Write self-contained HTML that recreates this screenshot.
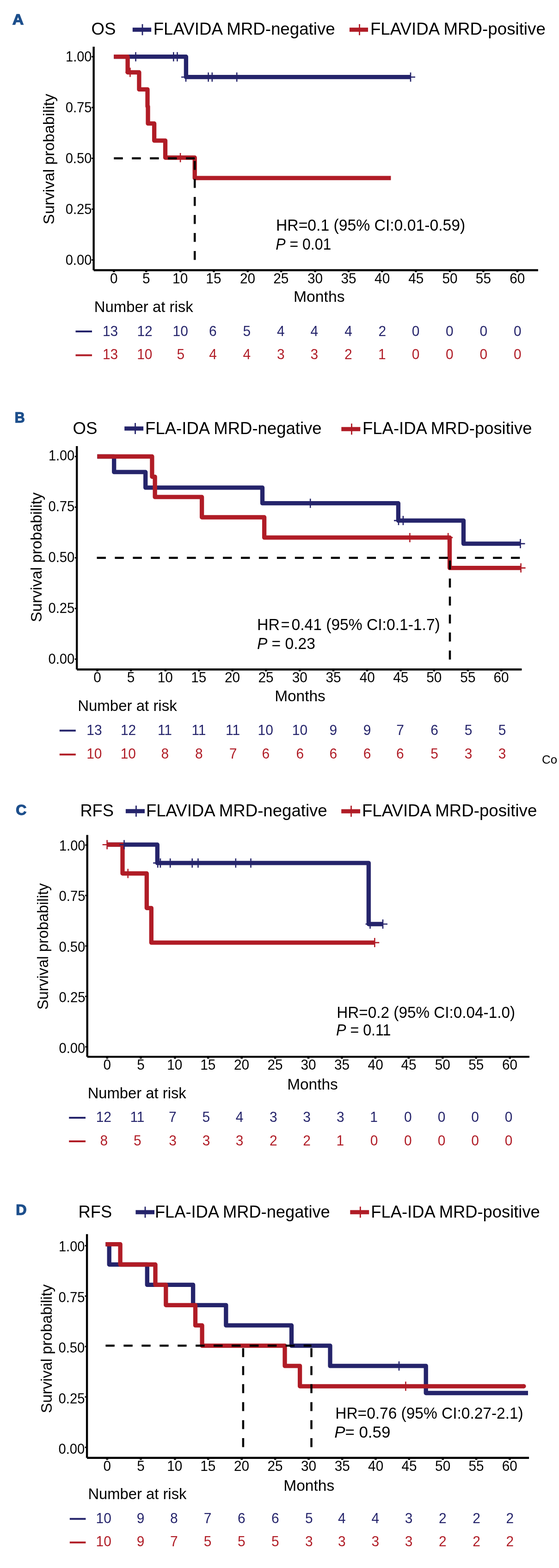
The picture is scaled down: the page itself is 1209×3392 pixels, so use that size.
<!DOCTYPE html>
<html><head><meta charset="utf-8"><title>Kaplan-Meier curves</title>
<style>html,body{margin:0;padding:0;background:#fff;}svg{display:block;}
text{font-family:'Liberation Sans',Arial,sans-serif;}</style></head>
<body>
<svg width="1209" height="3392" viewBox="0 0 1209 3392">
<rect width="1209" height="3392" fill="#fff"/>
<text x="26.79" y="53.2" font-size="32" fill="#1d4f8c" font-weight="bold" textLength="24.50" lengthAdjust="spacingAndGlyphs" stroke="#1d4f8c" stroke-width="1.4" stroke-linejoin="miter">A</text>
<text x="197.48" y="75.3" font-size="37" fill="#000" font-weight="normal" textLength="52.86" lengthAdjust="spacingAndGlyphs" >OS</text>
<line x1="286.8" y1="64.2" x2="327.1" y2="64.2" stroke="#25246b" stroke-width="9.0" />
<line x1="308.0" y1="52.2" x2="308.0" y2="76.2" stroke="#25246b" stroke-width="2.8" />
<text x="331.69" y="75.3" font-size="37" fill="#000" font-weight="normal" textLength="393.05" lengthAdjust="spacingAndGlyphs" >FLAVIDA MRD-negative</text>
<line x1="755.9" y1="64.2" x2="796.0" y2="64.2" stroke="#b01c26" stroke-width="9.0" />
<line x1="777.5" y1="52.2" x2="777.5" y2="76.2" stroke="#b01c26" stroke-width="2.8" />
<text x="800.89" y="75.3" font-size="37" fill="#000" font-weight="normal" textLength="378.94" lengthAdjust="spacingAndGlyphs" >FLAVIDA MRD-positive</text>
<text x="0" y="0" font-size="34" text-anchor="middle" transform="translate(117,344.2) rotate(-90)" textLength="282.5" lengthAdjust="spacingAndGlyphs">Survival probability</text>
<text x="141.66" y="572.9" font-size="31" fill="#000" font-weight="normal" textLength="56.75" lengthAdjust="spacingAndGlyphs" >0.00</text>
<line x1="198.1" y1="562.3" x2="202.6" y2="562.3" stroke="#000" stroke-width="3" />
<text x="141.66" y="462.9" font-size="31" fill="#000" font-weight="normal" textLength="56.85" lengthAdjust="spacingAndGlyphs" >0.25</text>
<line x1="198.1" y1="452.4" x2="202.6" y2="452.4" stroke="#000" stroke-width="3" />
<text x="141.66" y="352.9" font-size="31" fill="#000" font-weight="normal" textLength="56.75" lengthAdjust="spacingAndGlyphs" >0.50</text>
<line x1="198.1" y1="342.5" x2="202.6" y2="342.5" stroke="#000" stroke-width="3" />
<text x="141.66" y="243.0" font-size="31" fill="#000" font-weight="normal" textLength="56.85" lengthAdjust="spacingAndGlyphs" >0.75</text>
<line x1="198.1" y1="232.6" x2="202.6" y2="232.6" stroke="#000" stroke-width="3" />
<text x="142.10" y="133.0" font-size="31" fill="#000" font-weight="normal" textLength="56.31" lengthAdjust="spacingAndGlyphs" >1.00</text>
<line x1="198.1" y1="122.7" x2="202.6" y2="122.7" stroke="#000" stroke-width="3" />
<text x="238.11" y="613.0" font-size="31" fill="#000" textLength="16.55" lengthAdjust="spacingAndGlyphs">0</text>
<line x1="246.4" y1="584.5" x2="246.4" y2="588.7" stroke="#000" stroke-width="4.5" />
<text x="307.94" y="613.0" font-size="31" fill="#000" textLength="16.55" lengthAdjust="spacingAndGlyphs">5</text>
<line x1="316.2" y1="584.5" x2="316.2" y2="588.7" stroke="#000" stroke-width="4.5" />
<text x="373.09" y="613.0" font-size="31" fill="#000" textLength="33.10" lengthAdjust="spacingAndGlyphs">10</text>
<line x1="390.2" y1="584.5" x2="390.2" y2="588.7" stroke="#000" stroke-width="4.5" />
<text x="445.33" y="613.0" font-size="31" fill="#000" textLength="33.10" lengthAdjust="spacingAndGlyphs">15</text>
<line x1="462.4" y1="584.5" x2="462.4" y2="588.7" stroke="#000" stroke-width="4.5" />
<text x="518.97" y="613.0" font-size="31" fill="#000" textLength="33.10" lengthAdjust="spacingAndGlyphs">20</text>
<line x1="535.7" y1="584.5" x2="535.7" y2="588.7" stroke="#000" stroke-width="4.5" />
<text x="591.32" y="613.0" font-size="31" fill="#000" textLength="33.10" lengthAdjust="spacingAndGlyphs">25</text>
<line x1="608.0" y1="584.5" x2="608.0" y2="588.7" stroke="#000" stroke-width="4.5" />
<text x="664.95" y="613.0" font-size="31" fill="#000" textLength="33.10" lengthAdjust="spacingAndGlyphs">30</text>
<line x1="681.5" y1="584.5" x2="681.5" y2="588.7" stroke="#000" stroke-width="4.5" />
<text x="737.50" y="613.0" font-size="31" fill="#000" textLength="33.10" lengthAdjust="spacingAndGlyphs">35</text>
<line x1="754.0" y1="584.5" x2="754.0" y2="588.7" stroke="#000" stroke-width="4.5" />
<text x="810.09" y="613.0" font-size="31" fill="#000" textLength="33.10" lengthAdjust="spacingAndGlyphs">40</text>
<line x1="826.4" y1="584.5" x2="826.4" y2="588.7" stroke="#000" stroke-width="4.5" />
<text x="883.14" y="613.0" font-size="31" fill="#000" textLength="33.10" lengthAdjust="spacingAndGlyphs">45</text>
<line x1="899.4" y1="584.5" x2="899.4" y2="588.7" stroke="#000" stroke-width="4.5" />
<text x="956.42" y="613.0" font-size="31" fill="#000" textLength="33.10" lengthAdjust="spacingAndGlyphs">50</text>
<line x1="973.0" y1="584.5" x2="973.0" y2="588.7" stroke="#000" stroke-width="4.5" />
<text x="1028.87" y="613.0" font-size="31" fill="#000" textLength="33.10" lengthAdjust="spacingAndGlyphs">55</text>
<line x1="1045.4" y1="584.5" x2="1045.4" y2="588.7" stroke="#000" stroke-width="4.5" />
<text x="1102.17" y="613.0" font-size="31" fill="#000" textLength="33.10" lengthAdjust="spacingAndGlyphs">60</text>
<line x1="1118.9" y1="584.5" x2="1118.9" y2="588.7" stroke="#000" stroke-width="4.5" />
<line x1="202.6" y1="101.0" x2="202.6" y2="584.5" stroke="#000" stroke-width="4.4" />
<line x1="202.6" y1="584.5" x2="1163.8" y2="584.5" stroke="#000" stroke-width="4.4" />
<path d="M246.3,122.7 L402.4,122.7 L402.4,166.7 L888.0,166.7" fill="none" stroke="#25246b" stroke-width="9.3" stroke-linejoin="round" stroke-linecap="butt"/>
<path d="M246.3,122.7 L276.1,122.7 L276.1,156.5 L300.9,156.5 L300.9,193.4 L319.0,193.4 L319.0,230.3 L320.0,230.3 L320.0,267.2 L333.6,267.2 L333.6,304.1 L357.5,304.1 L357.5,341.0 L421.2,341.0 L421.2,385.2 L845.4,385.2" fill="none" stroke="#b01c26" stroke-width="9.3" stroke-linejoin="round" stroke-linecap="butt"/>
<path d="M283.5,122.7 H303.5 M293.5,112.7 V132.7" stroke="#25246b" stroke-width="2.6" fill="none"/>
<path d="M365.3,122.7 H385.3 M375.3,112.7 V132.7" stroke="#25246b" stroke-width="2.6" fill="none"/>
<path d="M373.4,122.7 H393.4 M383.4,112.7 V132.7" stroke="#25246b" stroke-width="2.6" fill="none"/>
<path d="M392.0,166.7 H412.0 M402.0,156.7 V176.7" stroke="#25246b" stroke-width="2.6" fill="none"/>
<path d="M440.6,166.7 H460.6 M450.6,156.7 V176.7" stroke="#25246b" stroke-width="2.6" fill="none"/>
<path d="M448.8,166.7 H468.8 M458.8,156.7 V176.7" stroke="#25246b" stroke-width="2.6" fill="none"/>
<path d="M502.2,166.7 H522.2 M512.2,156.7 V176.7" stroke="#25246b" stroke-width="2.6" fill="none"/>
<path d="M878.0,166.7 H898.0 M888.0,156.7 V176.7" stroke="#25246b" stroke-width="2.6" fill="none"/>
<path d="M271.4,156.5 H291.4 M281.4,146.5 V166.5" stroke="#b01c26" stroke-width="2.6" fill="none"/>
<path d="M380.1,341.0 H400.1 M390.1,331.0 V351.0" stroke="#b01c26" stroke-width="2.6" fill="none"/>
<line x1="246.3" y1="342.5" x2="421.2" y2="342.5" stroke="#000" stroke-width="4.5" stroke-dasharray="19.4 19.54"/>
<line x1="421.2" y1="562.3" x2="421.2" y2="342.5" stroke="#000" stroke-width="4.5" stroke-dasharray="19.4 19.54"/>
<text x="597.04" y="499.2" font-size="35" fill="#000" font-weight="normal" textLength="409.15" lengthAdjust="spacingAndGlyphs" >HR=0.1 (95% CI:0.01-0.59)</text>
<text x="596.24" y="540.2" font-size="35" textLength="119.99" lengthAdjust="spacingAndGlyphs"><tspan font-style="italic">P</tspan> = 0.01</text>
<text x="635.04" y="653.1" font-size="34" fill="#000" font-weight="normal" textLength="110.49" lengthAdjust="spacingAndGlyphs" >Months</text>
<text x="203.80" y="674.9" font-size="34" fill="#000" font-weight="normal" textLength="213.81" lengthAdjust="spacingAndGlyphs" >Number at risk</text>
<line x1="163.5" y1="717.0" x2="199.0" y2="717.0" stroke="#25246b" stroke-width="4" />
<text x="221.97" y="726.6" font-size="31" fill="#25246b" textLength="33.27" lengthAdjust="spacingAndGlyphs">13</text>
<text x="296.38" y="726.6" font-size="31" fill="#25246b" textLength="33.27" lengthAdjust="spacingAndGlyphs">12</text>
<text x="373.50" y="726.6" font-size="31" fill="#25246b" textLength="33.27" lengthAdjust="spacingAndGlyphs">10</text>
<text x="451.98" y="726.6" font-size="31" fill="#25246b" textLength="16.64" lengthAdjust="spacingAndGlyphs">6</text>
<text x="525.40" y="726.6" font-size="31" fill="#25246b" textLength="16.64" lengthAdjust="spacingAndGlyphs">5</text>
<text x="598.99" y="726.6" font-size="31" fill="#25246b" textLength="16.64" lengthAdjust="spacingAndGlyphs">4</text>
<text x="671.59" y="726.6" font-size="31" fill="#25246b" textLength="16.64" lengthAdjust="spacingAndGlyphs">4</text>
<text x="745.19" y="726.6" font-size="31" fill="#25246b" textLength="16.64" lengthAdjust="spacingAndGlyphs">4</text>
<text x="818.38" y="726.6" font-size="31" fill="#25246b" textLength="16.64" lengthAdjust="spacingAndGlyphs">2</text>
<text x="890.77" y="726.6" font-size="31" fill="#25246b" textLength="16.64" lengthAdjust="spacingAndGlyphs">0</text>
<text x="964.07" y="726.6" font-size="31" fill="#25246b" textLength="16.64" lengthAdjust="spacingAndGlyphs">0</text>
<text x="1037.57" y="726.6" font-size="31" fill="#25246b" textLength="16.64" lengthAdjust="spacingAndGlyphs">0</text>
<text x="1111.07" y="726.6" font-size="31" fill="#25246b" textLength="16.64" lengthAdjust="spacingAndGlyphs">0</text>
<line x1="163.5" y1="768.5" x2="199.0" y2="768.5" stroke="#b01c26" stroke-width="4" />
<text x="221.97" y="777.1" font-size="31" fill="#b01c26" textLength="33.27" lengthAdjust="spacingAndGlyphs">13</text>
<text x="296.20" y="777.1" font-size="31" fill="#b01c26" textLength="33.27" lengthAdjust="spacingAndGlyphs">10</text>
<text x="382.40" y="777.1" font-size="31" fill="#b01c26" textLength="16.64" lengthAdjust="spacingAndGlyphs">5</text>
<text x="452.19" y="777.1" font-size="31" fill="#b01c26" textLength="16.64" lengthAdjust="spacingAndGlyphs">4</text>
<text x="525.49" y="777.1" font-size="31" fill="#b01c26" textLength="16.64" lengthAdjust="spacingAndGlyphs">4</text>
<text x="598.96" y="777.1" font-size="31" fill="#b01c26" textLength="16.64" lengthAdjust="spacingAndGlyphs">3</text>
<text x="671.56" y="777.1" font-size="31" fill="#b01c26" textLength="16.64" lengthAdjust="spacingAndGlyphs">3</text>
<text x="745.08" y="777.1" font-size="31" fill="#b01c26" textLength="16.64" lengthAdjust="spacingAndGlyphs">2</text>
<text x="817.96" y="777.1" font-size="31" fill="#b01c26" textLength="16.64" lengthAdjust="spacingAndGlyphs">1</text>
<text x="890.77" y="777.1" font-size="31" fill="#b01c26" textLength="16.64" lengthAdjust="spacingAndGlyphs">0</text>
<text x="964.07" y="777.1" font-size="31" fill="#b01c26" textLength="16.64" lengthAdjust="spacingAndGlyphs">0</text>
<text x="1037.57" y="777.1" font-size="31" fill="#b01c26" textLength="16.64" lengthAdjust="spacingAndGlyphs">0</text>
<text x="1111.07" y="777.1" font-size="31" fill="#b01c26" textLength="16.64" lengthAdjust="spacingAndGlyphs">0</text>
<text x="31.69" y="914.0" font-size="32" fill="#1d4f8c" font-weight="bold" textLength="21.98" lengthAdjust="spacingAndGlyphs" stroke="#1d4f8c" stroke-width="1.4" stroke-linejoin="miter">B</text>
<text x="157.48" y="938.6" font-size="37" fill="#000" font-weight="normal" textLength="52.97" lengthAdjust="spacingAndGlyphs" >OS</text>
<line x1="269.2" y1="927.0" x2="310.1" y2="927.0" stroke="#25246b" stroke-width="9.0" />
<line x1="292.5" y1="915.0" x2="292.5" y2="939.0" stroke="#25246b" stroke-width="2.8" />
<text x="314.11" y="938.6" font-size="37" fill="#000" font-weight="normal" textLength="381.49" lengthAdjust="spacingAndGlyphs" >FLA-IDA MRD-negative</text>
<line x1="738.3" y1="928.3" x2="779.2" y2="928.3" stroke="#b01c26" stroke-width="9.0" />
<line x1="760.5" y1="916.3" x2="760.5" y2="940.3" stroke="#b01c26" stroke-width="2.8" />
<text x="784.11" y="938.6" font-size="37" fill="#000" font-weight="normal" textLength="366.28" lengthAdjust="spacingAndGlyphs" >FLA-IDA MRD-positive</text>
<text x="0" y="0" font-size="34" text-anchor="middle" transform="translate(89.7,1205.5) rotate(-90)" textLength="280.5" lengthAdjust="spacingAndGlyphs">Survival probability</text>
<text x="104.46" y="1435.6" font-size="31" fill="#000" font-weight="normal" textLength="56.75" lengthAdjust="spacingAndGlyphs" >0.00</text>
<line x1="161.7" y1="1425.9" x2="166.2" y2="1425.9" stroke="#000" stroke-width="3" />
<text x="104.46" y="1325.7" font-size="31" fill="#000" font-weight="normal" textLength="56.85" lengthAdjust="spacingAndGlyphs" >0.25</text>
<line x1="161.7" y1="1316.3" x2="166.2" y2="1316.3" stroke="#000" stroke-width="3" />
<text x="104.46" y="1215.8" font-size="31" fill="#000" font-weight="normal" textLength="56.75" lengthAdjust="spacingAndGlyphs" >0.50</text>
<line x1="161.7" y1="1206.7" x2="166.2" y2="1206.7" stroke="#000" stroke-width="3" />
<text x="104.46" y="1106.0" font-size="31" fill="#000" font-weight="normal" textLength="56.85" lengthAdjust="spacingAndGlyphs" >0.75</text>
<line x1="161.7" y1="1097.1" x2="166.2" y2="1097.1" stroke="#000" stroke-width="3" />
<text x="104.90" y="996.1" font-size="31" fill="#000" font-weight="normal" textLength="56.31" lengthAdjust="spacingAndGlyphs" >1.00</text>
<line x1="161.7" y1="987.5" x2="166.2" y2="987.5" stroke="#000" stroke-width="3" />
<text x="202.21" y="1475.9" font-size="31" fill="#000" textLength="16.55" lengthAdjust="spacingAndGlyphs">0</text>
<line x1="210.5" y1="1448.2" x2="210.5" y2="1452.4" stroke="#000" stroke-width="4.5" />
<text x="274.74" y="1475.9" font-size="31" fill="#000" textLength="16.55" lengthAdjust="spacingAndGlyphs">5</text>
<line x1="283.0" y1="1448.2" x2="283.0" y2="1452.4" stroke="#000" stroke-width="4.5" />
<text x="340.69" y="1475.9" font-size="31" fill="#000" textLength="33.10" lengthAdjust="spacingAndGlyphs">10</text>
<line x1="357.8" y1="1448.2" x2="357.8" y2="1452.4" stroke="#000" stroke-width="4.5" />
<text x="413.23" y="1475.9" font-size="31" fill="#000" textLength="33.10" lengthAdjust="spacingAndGlyphs">15</text>
<line x1="430.3" y1="1448.2" x2="430.3" y2="1452.4" stroke="#000" stroke-width="4.5" />
<text x="485.97" y="1475.9" font-size="31" fill="#000" textLength="33.10" lengthAdjust="spacingAndGlyphs">20</text>
<line x1="502.7" y1="1448.2" x2="502.7" y2="1452.4" stroke="#000" stroke-width="4.5" />
<text x="558.52" y="1475.9" font-size="31" fill="#000" textLength="33.10" lengthAdjust="spacingAndGlyphs">25</text>
<line x1="575.2" y1="1448.2" x2="575.2" y2="1452.4" stroke="#000" stroke-width="4.5" />
<text x="631.75" y="1475.9" font-size="31" fill="#000" textLength="33.10" lengthAdjust="spacingAndGlyphs">30</text>
<line x1="648.3" y1="1448.2" x2="648.3" y2="1452.4" stroke="#000" stroke-width="4.5" />
<text x="704.50" y="1475.9" font-size="31" fill="#000" textLength="33.10" lengthAdjust="spacingAndGlyphs">35</text>
<line x1="721.0" y1="1448.2" x2="721.0" y2="1452.4" stroke="#000" stroke-width="4.5" />
<text x="777.69" y="1475.9" font-size="31" fill="#000" textLength="33.10" lengthAdjust="spacingAndGlyphs">40</text>
<line x1="794.0" y1="1448.2" x2="794.0" y2="1452.4" stroke="#000" stroke-width="4.5" />
<text x="850.24" y="1475.9" font-size="31" fill="#000" textLength="33.10" lengthAdjust="spacingAndGlyphs">45</text>
<line x1="866.5" y1="1448.2" x2="866.5" y2="1452.4" stroke="#000" stroke-width="4.5" />
<text x="922.32" y="1475.9" font-size="31" fill="#000" textLength="33.10" lengthAdjust="spacingAndGlyphs">50</text>
<line x1="938.9" y1="1448.2" x2="938.9" y2="1452.4" stroke="#000" stroke-width="4.5" />
<text x="995.37" y="1475.9" font-size="31" fill="#000" textLength="33.10" lengthAdjust="spacingAndGlyphs">55</text>
<line x1="1011.9" y1="1448.2" x2="1011.9" y2="1452.4" stroke="#000" stroke-width="4.5" />
<text x="1067.57" y="1475.9" font-size="31" fill="#000" textLength="33.10" lengthAdjust="spacingAndGlyphs">60</text>
<line x1="1084.3" y1="1448.2" x2="1084.3" y2="1452.4" stroke="#000" stroke-width="4.5" />
<line x1="166.2" y1="965.0" x2="166.2" y2="1448.2" stroke="#000" stroke-width="4.4" />
<line x1="166.2" y1="1448.2" x2="1128.4" y2="1448.2" stroke="#000" stroke-width="4.4" />
<path d="M210.4,987.5 L246.7,987.5 L246.7,1021.2 L314.7,1021.2 L314.7,1054.9 L567.5,1054.9 L567.5,1088.7 L861.4,1088.7 L861.4,1126.1 L1002.5,1126.1 L1002.5,1176.1 L1125.5,1176.1" fill="none" stroke="#25246b" stroke-width="9.3" stroke-linejoin="round" stroke-linecap="butt"/>
<path d="M210.4,987.5 L328.9,987.5 L328.9,1031.3 L335.1,1031.3 L335.1,1075.2 L436.6,1075.2 L436.6,1119.0 L571.6,1119.0 L571.6,1162.9 L972.5,1162.9 L972.5,1228.6 L1126.6,1228.6" fill="none" stroke="#b01c26" stroke-width="9.3" stroke-linejoin="round" stroke-linecap="butt"/>
<path d="M661.2,1088.7 H681.2 M671.2,1078.7 V1098.7" stroke="#25246b" stroke-width="2.6" fill="none"/>
<path d="M852.0,1126.1 H872.0 M862.0,1116.1 V1136.1" stroke="#25246b" stroke-width="2.6" fill="none"/>
<path d="M861.9,1126.1 H881.9 M871.9,1116.1 V1136.1" stroke="#25246b" stroke-width="2.6" fill="none"/>
<path d="M1115.5,1176.1 H1135.5 M1125.5,1166.1 V1186.1" stroke="#25246b" stroke-width="2.6" fill="none"/>
<path d="M876.4,1162.9 H896.4 M886.4,1152.9 V1172.9" stroke="#b01c26" stroke-width="2.6" fill="none"/>
<path d="M959.2,1162.9 H979.2 M969.2,1152.9 V1172.9" stroke="#b01c26" stroke-width="2.6" fill="none"/>
<path d="M1116.6,1228.6 H1136.6 M1126.6,1218.6 V1238.6" stroke="#b01c26" stroke-width="2.6" fill="none"/>
<line x1="209.5" y1="1206.7" x2="1124.3" y2="1206.7" stroke="#000" stroke-width="4.5" stroke-dasharray="19.4 19.54"/>
<line x1="973.0" y1="1426.7" x2="973.0" y2="1206.7" stroke="#000" stroke-width="4.5" stroke-dasharray="19.4 19.54"/>
<text x="1172" y="1652" font-size="26" fill="#000">Co</text>
<text x="556.12" y="1362.6" font-size="35" fill="#000" font-weight="normal" textLength="48.95" lengthAdjust="spacingAndGlyphs" >HR</text>
<text x="607.43" y="1362.6" font-size="35" fill="#000" font-weight="normal" textLength="19.07" lengthAdjust="spacingAndGlyphs" >=</text>
<text x="630.49" y="1362.6" font-size="35" fill="#000" font-weight="normal" textLength="321.28" lengthAdjust="spacingAndGlyphs" >0.41 (95% CI:0.1-1.7)</text>
<text x="555.89" y="1403.6" font-size="35" textLength="125.95" lengthAdjust="spacingAndGlyphs"><tspan font-style="italic">P</tspan> = 0.23</text>
<text x="594.16" y="1516.9" font-size="34" fill="#000" font-weight="normal" textLength="109.66" lengthAdjust="spacingAndGlyphs" >Months</text>
<text x="168.19" y="1538.2" font-size="34" fill="#000" font-weight="normal" textLength="214.52" lengthAdjust="spacingAndGlyphs" >Number at risk</text>
<line x1="128.8" y1="1580.5" x2="163.8" y2="1580.5" stroke="#25246b" stroke-width="4" />
<text x="187.27" y="1589.8" font-size="31" fill="#25246b" textLength="33.27" lengthAdjust="spacingAndGlyphs">13</text>
<text x="260.88" y="1589.8" font-size="31" fill="#25246b" textLength="33.27" lengthAdjust="spacingAndGlyphs">12</text>
<text x="340.96" y="1589.8" font-size="31" fill="#25246b" textLength="31.05" lengthAdjust="spacingAndGlyphs">11</text>
<text x="414.46" y="1589.8" font-size="31" fill="#25246b" textLength="31.05" lengthAdjust="spacingAndGlyphs">11</text>
<text x="488.06" y="1589.8" font-size="31" fill="#25246b" textLength="31.05" lengthAdjust="spacingAndGlyphs">11</text>
<text x="557.60" y="1589.8" font-size="31" fill="#25246b" textLength="33.27" lengthAdjust="spacingAndGlyphs">10</text>
<text x="631.80" y="1589.8" font-size="31" fill="#25246b" textLength="33.27" lengthAdjust="spacingAndGlyphs">10</text>
<text x="712.60" y="1589.8" font-size="31" fill="#25246b" textLength="16.64" lengthAdjust="spacingAndGlyphs">9</text>
<text x="785.80" y="1589.8" font-size="31" fill="#25246b" textLength="16.64" lengthAdjust="spacingAndGlyphs">9</text>
<text x="857.17" y="1589.8" font-size="31" fill="#25246b" textLength="16.64" lengthAdjust="spacingAndGlyphs">7</text>
<text x="931.18" y="1589.8" font-size="31" fill="#25246b" textLength="16.64" lengthAdjust="spacingAndGlyphs">6</text>
<text x="1004.80" y="1589.8" font-size="31" fill="#25246b" textLength="16.64" lengthAdjust="spacingAndGlyphs">5</text>
<text x="1077.80" y="1589.8" font-size="31" fill="#25246b" textLength="16.64" lengthAdjust="spacingAndGlyphs">5</text>
<line x1="128.8" y1="1632.2" x2="163.8" y2="1632.2" stroke="#b01c26" stroke-width="4" />
<text x="187.20" y="1641.0" font-size="31" fill="#b01c26" textLength="33.27" lengthAdjust="spacingAndGlyphs">10</text>
<text x="260.70" y="1641.0" font-size="31" fill="#b01c26" textLength="33.27" lengthAdjust="spacingAndGlyphs">10</text>
<text x="348.58" y="1641.0" font-size="31" fill="#b01c26" textLength="16.64" lengthAdjust="spacingAndGlyphs">8</text>
<text x="422.08" y="1641.0" font-size="31" fill="#b01c26" textLength="16.64" lengthAdjust="spacingAndGlyphs">8</text>
<text x="495.67" y="1641.0" font-size="31" fill="#b01c26" textLength="16.64" lengthAdjust="spacingAndGlyphs">7</text>
<text x="566.38" y="1641.0" font-size="31" fill="#b01c26" textLength="16.64" lengthAdjust="spacingAndGlyphs">6</text>
<text x="640.58" y="1641.0" font-size="31" fill="#b01c26" textLength="16.64" lengthAdjust="spacingAndGlyphs">6</text>
<text x="712.48" y="1641.0" font-size="31" fill="#b01c26" textLength="16.64" lengthAdjust="spacingAndGlyphs">6</text>
<text x="785.68" y="1641.0" font-size="31" fill="#b01c26" textLength="16.64" lengthAdjust="spacingAndGlyphs">6</text>
<text x="857.08" y="1641.0" font-size="31" fill="#b01c26" textLength="16.64" lengthAdjust="spacingAndGlyphs">6</text>
<text x="931.30" y="1641.0" font-size="31" fill="#b01c26" textLength="16.64" lengthAdjust="spacingAndGlyphs">5</text>
<text x="1004.86" y="1641.0" font-size="31" fill="#b01c26" textLength="16.64" lengthAdjust="spacingAndGlyphs">3</text>
<text x="1077.86" y="1641.0" font-size="31" fill="#b01c26" textLength="16.64" lengthAdjust="spacingAndGlyphs">3</text>
<text x="34.19" y="1763.4" font-size="32" fill="#1d4f8c" font-weight="bold" textLength="23.08" lengthAdjust="spacingAndGlyphs" stroke="#1d4f8c" stroke-width="1.4" stroke-linejoin="miter">C</text>
<text x="173.42" y="1765.8" font-size="37" fill="#000" font-weight="normal" textLength="72.61" lengthAdjust="spacingAndGlyphs" >RFS</text>
<line x1="271.9" y1="1754.7" x2="313.0" y2="1754.7" stroke="#25246b" stroke-width="9.0" />
<line x1="294.4" y1="1742.7" x2="294.4" y2="1766.7" stroke="#25246b" stroke-width="2.8" />
<text x="315.90" y="1765.8" font-size="37" fill="#000" font-weight="normal" textLength="391.83" lengthAdjust="spacingAndGlyphs" >FLAVIDA MRD-negative</text>
<line x1="738.2" y1="1754.9" x2="779.0" y2="1754.9" stroke="#b01c26" stroke-width="9.0" />
<line x1="759.5" y1="1742.9" x2="759.5" y2="1766.9" stroke="#b01c26" stroke-width="2.8" />
<text x="782.89" y="1765.8" font-size="37" fill="#000" font-weight="normal" textLength="378.44" lengthAdjust="spacingAndGlyphs" >FLAVIDA MRD-positive</text>
<text x="0" y="0" font-size="33" text-anchor="middle" transform="translate(104,2047.4) rotate(-90)" textLength="273.5" lengthAdjust="spacingAndGlyphs">Survival probability</text>
<text x="127.56" y="2277.6" font-size="31" fill="#000" font-weight="normal" textLength="56.75" lengthAdjust="spacingAndGlyphs" >0.00</text>
<line x1="184.2" y1="2264.7" x2="188.7" y2="2264.7" stroke="#000" stroke-width="3" />
<text x="127.56" y="2168.2" font-size="31" fill="#000" font-weight="normal" textLength="56.85" lengthAdjust="spacingAndGlyphs" >0.25</text>
<line x1="184.2" y1="2155.5" x2="188.7" y2="2155.5" stroke="#000" stroke-width="3" />
<text x="127.56" y="2058.8" font-size="31" fill="#000" font-weight="normal" textLength="56.75" lengthAdjust="spacingAndGlyphs" >0.50</text>
<line x1="184.2" y1="2046.4" x2="188.7" y2="2046.4" stroke="#000" stroke-width="3" />
<text x="127.56" y="1949.4" font-size="31" fill="#000" font-weight="normal" textLength="56.85" lengthAdjust="spacingAndGlyphs" >0.75</text>
<line x1="184.2" y1="1937.2" x2="188.7" y2="1937.2" stroke="#000" stroke-width="3" />
<text x="128.00" y="1840.0" font-size="31" fill="#000" font-weight="normal" textLength="56.31" lengthAdjust="spacingAndGlyphs" >1.00</text>
<line x1="184.2" y1="1828.1" x2="188.7" y2="1828.1" stroke="#000" stroke-width="3" />
<text x="223.51" y="2313.9" font-size="31" fill="#000" textLength="16.55" lengthAdjust="spacingAndGlyphs">0</text>
<line x1="231.8" y1="2286.1" x2="231.8" y2="2290.3" stroke="#000" stroke-width="4.5" />
<text x="296.14" y="2313.9" font-size="31" fill="#000" textLength="16.55" lengthAdjust="spacingAndGlyphs">5</text>
<line x1="304.4" y1="2286.1" x2="304.4" y2="2290.3" stroke="#000" stroke-width="4.5" />
<text x="361.29" y="2313.9" font-size="31" fill="#000" textLength="33.10" lengthAdjust="spacingAndGlyphs">10</text>
<line x1="378.4" y1="2286.1" x2="378.4" y2="2290.3" stroke="#000" stroke-width="4.5" />
<text x="433.23" y="2313.9" font-size="31" fill="#000" textLength="33.10" lengthAdjust="spacingAndGlyphs">15</text>
<line x1="450.3" y1="2286.1" x2="450.3" y2="2290.3" stroke="#000" stroke-width="4.5" />
<text x="505.97" y="2313.9" font-size="31" fill="#000" textLength="33.10" lengthAdjust="spacingAndGlyphs">20</text>
<line x1="522.7" y1="2286.1" x2="522.7" y2="2290.3" stroke="#000" stroke-width="4.5" />
<text x="578.52" y="2313.9" font-size="31" fill="#000" textLength="33.10" lengthAdjust="spacingAndGlyphs">25</text>
<line x1="595.2" y1="2286.1" x2="595.2" y2="2290.3" stroke="#000" stroke-width="4.5" />
<text x="650.45" y="2313.9" font-size="31" fill="#000" textLength="33.10" lengthAdjust="spacingAndGlyphs">30</text>
<line x1="667.0" y1="2286.1" x2="667.0" y2="2290.3" stroke="#000" stroke-width="4.5" />
<text x="722.90" y="2313.9" font-size="31" fill="#000" textLength="33.10" lengthAdjust="spacingAndGlyphs">35</text>
<line x1="739.4" y1="2286.1" x2="739.4" y2="2290.3" stroke="#000" stroke-width="4.5" />
<text x="795.59" y="2313.9" font-size="31" fill="#000" textLength="33.10" lengthAdjust="spacingAndGlyphs">40</text>
<line x1="811.9" y1="2286.1" x2="811.9" y2="2290.3" stroke="#000" stroke-width="4.5" />
<text x="867.54" y="2313.9" font-size="31" fill="#000" textLength="33.10" lengthAdjust="spacingAndGlyphs">45</text>
<line x1="883.8" y1="2286.1" x2="883.8" y2="2290.3" stroke="#000" stroke-width="4.5" />
<text x="940.72" y="2313.9" font-size="31" fill="#000" textLength="33.10" lengthAdjust="spacingAndGlyphs">50</text>
<line x1="957.3" y1="2286.1" x2="957.3" y2="2290.3" stroke="#000" stroke-width="4.5" />
<text x="1013.17" y="2313.9" font-size="31" fill="#000" textLength="33.10" lengthAdjust="spacingAndGlyphs">55</text>
<line x1="1029.7" y1="2286.1" x2="1029.7" y2="2290.3" stroke="#000" stroke-width="4.5" />
<text x="1085.97" y="2313.9" font-size="31" fill="#000" textLength="33.10" lengthAdjust="spacingAndGlyphs">60</text>
<line x1="1102.7" y1="2286.1" x2="1102.7" y2="2290.3" stroke="#000" stroke-width="4.5" />
<line x1="188.7" y1="1806.3" x2="188.7" y2="2286.1" stroke="#000" stroke-width="4.4" />
<line x1="188.7" y1="2286.1" x2="1145.0" y2="2286.1" stroke="#000" stroke-width="4.4" />
<path d="M231.6,1827.2 L340.3,1827.2 L340.3,1866.9 L797.3,1866.9 L797.3,1999.0 L828.0,1999.0" fill="none" stroke="#25246b" stroke-width="9.3" stroke-linejoin="round" stroke-linecap="butt"/>
<path d="M231.6,1827.2 L265.0,1827.2 L265.0,1889.5 L317.3,1889.5 L317.3,1964.3 L327.3,1964.3 L327.3,2039.1 L810.3,2039.1" fill="none" stroke="#b01c26" stroke-width="9.3" stroke-linejoin="round" stroke-linecap="butt"/>
<path d="M258.5,1827.2 H278.5 M268.5,1817.2 V1837.2" stroke="#25246b" stroke-width="2.6" fill="none"/>
<path d="M331.2,1866.9 H351.2 M341.2,1856.9 V1876.9" stroke="#25246b" stroke-width="2.6" fill="none"/>
<path d="M336.9,1866.9 H356.9 M346.9,1856.9 V1876.9" stroke="#25246b" stroke-width="2.6" fill="none"/>
<path d="M358.2,1866.9 H378.2 M368.2,1856.9 V1876.9" stroke="#25246b" stroke-width="2.6" fill="none"/>
<path d="M405.7,1866.9 H425.7 M415.7,1856.9 V1876.9" stroke="#25246b" stroke-width="2.6" fill="none"/>
<path d="M418.4,1866.9 H438.4 M428.4,1856.9 V1876.9" stroke="#25246b" stroke-width="2.6" fill="none"/>
<path d="M499.8,1866.9 H519.8 M509.8,1856.9 V1876.9" stroke="#25246b" stroke-width="2.6" fill="none"/>
<path d="M532.5,1866.9 H552.5 M542.5,1856.9 V1876.9" stroke="#25246b" stroke-width="2.6" fill="none"/>
<path d="M790.5,1999.0 H810.5 M800.5,1989.0 V2009.0" stroke="#25246b" stroke-width="2.6" fill="none"/>
<path d="M818.0,1999.0 H838.0 M828.0,1989.0 V2009.0" stroke="#25246b" stroke-width="2.6" fill="none"/>
<path d="M221.6,1827.2 H241.6 M231.6,1817.2 V1837.2" stroke="#b01c26" stroke-width="2.6" fill="none"/>
<path d="M266.7,1889.5 H286.7 M276.7,1879.5 V1899.5" stroke="#b01c26" stroke-width="2.6" fill="none"/>
<path d="M800.3,2039.1 H820.3 M810.3,2029.1 V2049.1" stroke="#b01c26" stroke-width="2.6" fill="none"/>
<text x="728.27" y="2201.8" font-size="35" fill="#000" font-weight="normal" textLength="385.79" lengthAdjust="spacingAndGlyphs" >HR=0.2 (95% CI:0.04-1.0)</text>
<text x="726.93" y="2240.2" font-size="35" textLength="118.61" lengthAdjust="spacingAndGlyphs"><tspan font-style="italic">P</tspan> = 0.11</text>
<text x="621.16" y="2357.4" font-size="34" fill="#000" font-weight="normal" textLength="109.55" lengthAdjust="spacingAndGlyphs" >Months</text>
<text x="189.71" y="2375.6" font-size="34" fill="#000" font-weight="normal" textLength="213.00" lengthAdjust="spacingAndGlyphs" >Number at risk</text>
<line x1="149.2" y1="2417.9" x2="185.0" y2="2417.9" stroke="#25246b" stroke-width="4" />
<text x="207.68" y="2427.0" font-size="31" fill="#25246b" textLength="33.27" lengthAdjust="spacingAndGlyphs">12</text>
<text x="281.46" y="2427.0" font-size="31" fill="#25246b" textLength="31.05" lengthAdjust="spacingAndGlyphs">11</text>
<text x="365.07" y="2427.0" font-size="31" fill="#25246b" textLength="16.64" lengthAdjust="spacingAndGlyphs">7</text>
<text x="437.60" y="2427.0" font-size="31" fill="#25246b" textLength="16.64" lengthAdjust="spacingAndGlyphs">5</text>
<text x="509.79" y="2427.0" font-size="31" fill="#25246b" textLength="16.64" lengthAdjust="spacingAndGlyphs">4</text>
<text x="583.06" y="2427.0" font-size="31" fill="#25246b" textLength="16.64" lengthAdjust="spacingAndGlyphs">3</text>
<text x="655.36" y="2427.0" font-size="31" fill="#25246b" textLength="16.64" lengthAdjust="spacingAndGlyphs">3</text>
<text x="727.96" y="2427.0" font-size="31" fill="#25246b" textLength="16.64" lengthAdjust="spacingAndGlyphs">3</text>
<text x="800.26" y="2427.0" font-size="31" fill="#25246b" textLength="16.64" lengthAdjust="spacingAndGlyphs">1</text>
<text x="873.97" y="2427.0" font-size="31" fill="#25246b" textLength="16.64" lengthAdjust="spacingAndGlyphs">0</text>
<text x="946.67" y="2427.0" font-size="31" fill="#25246b" textLength="16.64" lengthAdjust="spacingAndGlyphs">0</text>
<text x="1019.27" y="2427.0" font-size="31" fill="#25246b" textLength="16.64" lengthAdjust="spacingAndGlyphs">0</text>
<text x="1091.77" y="2427.0" font-size="31" fill="#25246b" textLength="16.64" lengthAdjust="spacingAndGlyphs">0</text>
<line x1="149.2" y1="2469.0" x2="185.0" y2="2469.0" stroke="#b01c26" stroke-width="4" />
<text x="216.38" y="2478.0" font-size="31" fill="#b01c26" textLength="16.64" lengthAdjust="spacingAndGlyphs">8</text>
<text x="289.10" y="2478.0" font-size="31" fill="#b01c26" textLength="16.64" lengthAdjust="spacingAndGlyphs">5</text>
<text x="365.16" y="2478.0" font-size="31" fill="#b01c26" textLength="16.64" lengthAdjust="spacingAndGlyphs">3</text>
<text x="437.66" y="2478.0" font-size="31" fill="#b01c26" textLength="16.64" lengthAdjust="spacingAndGlyphs">3</text>
<text x="509.76" y="2478.0" font-size="31" fill="#b01c26" textLength="16.64" lengthAdjust="spacingAndGlyphs">3</text>
<text x="582.98" y="2478.0" font-size="31" fill="#b01c26" textLength="16.64" lengthAdjust="spacingAndGlyphs">2</text>
<text x="655.28" y="2478.0" font-size="31" fill="#b01c26" textLength="16.64" lengthAdjust="spacingAndGlyphs">2</text>
<text x="727.46" y="2478.0" font-size="31" fill="#b01c26" textLength="16.64" lengthAdjust="spacingAndGlyphs">1</text>
<text x="800.67" y="2478.0" font-size="31" fill="#b01c26" textLength="16.64" lengthAdjust="spacingAndGlyphs">0</text>
<text x="873.97" y="2478.0" font-size="31" fill="#b01c26" textLength="16.64" lengthAdjust="spacingAndGlyphs">0</text>
<text x="946.67" y="2478.0" font-size="31" fill="#b01c26" textLength="16.64" lengthAdjust="spacingAndGlyphs">0</text>
<text x="1019.27" y="2478.0" font-size="31" fill="#b01c26" textLength="16.64" lengthAdjust="spacingAndGlyphs">0</text>
<text x="1091.77" y="2478.0" font-size="31" fill="#b01c26" textLength="16.64" lengthAdjust="spacingAndGlyphs">0</text>
<text x="34.36" y="2628.4" font-size="32" fill="#1d4f8c" font-weight="bold" textLength="23.37" lengthAdjust="spacingAndGlyphs" stroke="#1d4f8c" stroke-width="1.4" stroke-linejoin="miter">D</text>
<text x="169.52" y="2633.5" font-size="37" fill="#000" font-weight="normal" textLength="72.61" lengthAdjust="spacingAndGlyphs" >RFS</text>
<line x1="293.4" y1="2622.3" x2="334.0" y2="2622.3" stroke="#25246b" stroke-width="9.0" />
<line x1="314.0" y1="2610.3" x2="314.0" y2="2634.3" stroke="#25246b" stroke-width="2.8" />
<text x="334.93" y="2633.5" font-size="37" fill="#000" font-weight="normal" textLength="378.86" lengthAdjust="spacingAndGlyphs" >FLA-IDA MRD-negative</text>
<line x1="757.3" y1="2622.2" x2="798.2" y2="2622.2" stroke="#b01c26" stroke-width="9.0" />
<line x1="779.3" y1="2610.2" x2="779.3" y2="2634.2" stroke="#b01c26" stroke-width="2.8" />
<text x="802.32" y="2633.5" font-size="37" fill="#000" font-weight="normal" textLength="365.47" lengthAdjust="spacingAndGlyphs" >FLA-IDA MRD-positive</text>
<text x="0" y="0" font-size="34" text-anchor="middle" transform="translate(112,2917.7) rotate(-90)" textLength="278.5" lengthAdjust="spacingAndGlyphs">Survival probability</text>
<text x="126.56" y="3145.1" font-size="31" fill="#000" font-weight="normal" textLength="56.75" lengthAdjust="spacingAndGlyphs" >0.00</text>
<line x1="183.6" y1="3131.0" x2="188.1" y2="3131.0" stroke="#000" stroke-width="3" />
<text x="126.56" y="3035.7" font-size="31" fill="#000" font-weight="normal" textLength="56.85" lengthAdjust="spacingAndGlyphs" >0.25</text>
<line x1="183.6" y1="3021.9" x2="188.1" y2="3021.9" stroke="#000" stroke-width="3" />
<text x="126.56" y="2926.2" font-size="31" fill="#000" font-weight="normal" textLength="56.75" lengthAdjust="spacingAndGlyphs" >0.50</text>
<line x1="183.6" y1="2912.9" x2="188.1" y2="2912.9" stroke="#000" stroke-width="3" />
<text x="126.56" y="2816.7" font-size="31" fill="#000" font-weight="normal" textLength="56.85" lengthAdjust="spacingAndGlyphs" >0.75</text>
<line x1="183.6" y1="2803.8" x2="188.1" y2="2803.8" stroke="#000" stroke-width="3" />
<text x="127.00" y="2707.3" font-size="31" fill="#000" font-weight="normal" textLength="56.31" lengthAdjust="spacingAndGlyphs" >1.00</text>
<line x1="183.6" y1="2694.8" x2="188.1" y2="2694.8" stroke="#000" stroke-width="3" />
<text x="223.51" y="3181.6" font-size="31" fill="#000" textLength="16.55" lengthAdjust="spacingAndGlyphs">0</text>
<line x1="231.8" y1="3153.8" x2="231.8" y2="3158.0" stroke="#000" stroke-width="4.5" />
<text x="296.14" y="3181.6" font-size="31" fill="#000" textLength="16.55" lengthAdjust="spacingAndGlyphs">5</text>
<line x1="304.4" y1="3153.8" x2="304.4" y2="3158.0" stroke="#000" stroke-width="4.5" />
<text x="361.29" y="3181.6" font-size="31" fill="#000" textLength="33.10" lengthAdjust="spacingAndGlyphs">10</text>
<line x1="378.4" y1="3153.8" x2="378.4" y2="3158.0" stroke="#000" stroke-width="4.5" />
<text x="433.23" y="3181.6" font-size="31" fill="#000" textLength="33.10" lengthAdjust="spacingAndGlyphs">15</text>
<line x1="450.3" y1="3153.8" x2="450.3" y2="3158.0" stroke="#000" stroke-width="4.5" />
<text x="505.97" y="3181.6" font-size="31" fill="#000" textLength="33.10" lengthAdjust="spacingAndGlyphs">20</text>
<line x1="522.7" y1="3153.8" x2="522.7" y2="3158.0" stroke="#000" stroke-width="4.5" />
<text x="578.52" y="3181.6" font-size="31" fill="#000" textLength="33.10" lengthAdjust="spacingAndGlyphs">25</text>
<line x1="595.2" y1="3153.8" x2="595.2" y2="3158.0" stroke="#000" stroke-width="4.5" />
<text x="650.95" y="3181.6" font-size="31" fill="#000" textLength="33.10" lengthAdjust="spacingAndGlyphs">30</text>
<line x1="667.5" y1="3153.8" x2="667.5" y2="3158.0" stroke="#000" stroke-width="4.5" />
<text x="723.70" y="3181.6" font-size="31" fill="#000" textLength="33.10" lengthAdjust="spacingAndGlyphs">35</text>
<line x1="740.2" y1="3153.8" x2="740.2" y2="3158.0" stroke="#000" stroke-width="4.5" />
<text x="796.09" y="3181.6" font-size="31" fill="#000" textLength="33.10" lengthAdjust="spacingAndGlyphs">40</text>
<line x1="812.4" y1="3153.8" x2="812.4" y2="3158.0" stroke="#000" stroke-width="4.5" />
<text x="868.44" y="3181.6" font-size="31" fill="#000" textLength="33.10" lengthAdjust="spacingAndGlyphs">45</text>
<line x1="884.7" y1="3153.8" x2="884.7" y2="3158.0" stroke="#000" stroke-width="4.5" />
<text x="941.12" y="3181.6" font-size="31" fill="#000" textLength="33.10" lengthAdjust="spacingAndGlyphs">50</text>
<line x1="957.7" y1="3153.8" x2="957.7" y2="3158.0" stroke="#000" stroke-width="4.5" />
<text x="1013.57" y="3181.6" font-size="31" fill="#000" textLength="33.10" lengthAdjust="spacingAndGlyphs">55</text>
<line x1="1030.1" y1="3153.8" x2="1030.1" y2="3158.0" stroke="#000" stroke-width="4.5" />
<text x="1085.77" y="3181.6" font-size="31" fill="#000" textLength="33.10" lengthAdjust="spacingAndGlyphs">60</text>
<line x1="1102.5" y1="3153.8" x2="1102.5" y2="3158.0" stroke="#000" stroke-width="4.5" />
<line x1="188.1" y1="2669.8" x2="188.1" y2="3153.8" stroke="#000" stroke-width="4.4" />
<line x1="188.1" y1="3153.8" x2="1144.1" y2="3153.8" stroke="#000" stroke-width="4.4" />
<path d="M228.4,2691.6 L236.2,2691.6 L236.2,2735.5 L318.3,2735.5 L318.3,2779.4 L417.6,2779.4 L417.6,2823.3 L488.8,2823.3 L488.8,2867.2 L630.5,2867.2 L630.5,2911.1 L714.0,2911.1 L714.0,2954.9 L921.2,2954.9 L921.2,3013.5 L1142.0,3013.5" fill="none" stroke="#25246b" stroke-width="9.3" stroke-linejoin="round" stroke-linecap="butt"/>
<path d="M228.4,2691.6 L260.1,2691.6 L260.1,2735.5 L336.0,2735.5 L336.0,2779.4 L358.8,2779.4 L358.8,2823.3 L422.5,2823.3 L422.5,2867.2 L437.1,2867.2 L437.1,2911.1 L616.0,2911.1 L616.0,2954.9 L648.6,2954.9 L648.6,2998.8 L1133.0,2998.8" fill="none" stroke="#b01c26" stroke-width="9.3" stroke-linejoin="round" stroke-linecap="butt"/>
<path d="M853.0,2954.9 H873.0 M863.0,2944.9 V2964.9" stroke="#25246b" stroke-width="2.6" fill="none"/>
<path d="M867.4,2998.8 H887.4 M877.4,2988.8 V3008.8" stroke="#b01c26" stroke-width="2.6" fill="none"/>
<line x1="228.4" y1="2911.1" x2="673.5" y2="2911.1" stroke="#000" stroke-width="4.5" stroke-dasharray="19.4 19.54"/>
<line x1="525.9" y1="3130.5" x2="525.9" y2="2911.1" stroke="#000" stroke-width="4.5" stroke-dasharray="19.4 19.54"/>
<line x1="673.5" y1="3130.5" x2="673.5" y2="2911.1" stroke="#000" stroke-width="4.5" stroke-dasharray="19.4 19.54"/>
<circle cx="1133" cy="2998.8" r="4.6" fill="#b01c26"/>
<text x="725.26" y="3069.2" font-size="35" fill="#000" font-weight="normal" textLength="406.52" lengthAdjust="spacingAndGlyphs" >HR=0.76 (95% CI:0.27-2.1)</text>
<text x="723.15" y="3109.7" font-size="35" textLength="121.19" lengthAdjust="spacingAndGlyphs"><tspan font-style="italic">P</tspan>= 0.59</text>
<text x="613.36" y="3224.9" font-size="34" fill="#000" font-weight="normal" textLength="109.76" lengthAdjust="spacingAndGlyphs" >Months</text>
<text x="190.41" y="3243.3" font-size="34" fill="#000" font-weight="normal" textLength="213.00" lengthAdjust="spacingAndGlyphs" >Number at risk</text>
<line x1="150.8" y1="3285.7" x2="185.4" y2="3285.7" stroke="#25246b" stroke-width="4" />
<text x="207.50" y="3294.7" font-size="31" fill="#25246b" textLength="33.27" lengthAdjust="spacingAndGlyphs">10</text>
<text x="295.70" y="3294.7" font-size="31" fill="#25246b" textLength="16.64" lengthAdjust="spacingAndGlyphs">9</text>
<text x="368.08" y="3294.7" font-size="31" fill="#25246b" textLength="16.64" lengthAdjust="spacingAndGlyphs">8</text>
<text x="440.77" y="3294.7" font-size="31" fill="#25246b" textLength="16.64" lengthAdjust="spacingAndGlyphs">7</text>
<text x="513.88" y="3294.7" font-size="31" fill="#25246b" textLength="16.64" lengthAdjust="spacingAndGlyphs">6</text>
<text x="586.88" y="3294.7" font-size="31" fill="#25246b" textLength="16.64" lengthAdjust="spacingAndGlyphs">6</text>
<text x="659.90" y="3294.7" font-size="31" fill="#25246b" textLength="16.64" lengthAdjust="spacingAndGlyphs">5</text>
<text x="731.09" y="3294.7" font-size="31" fill="#25246b" textLength="16.64" lengthAdjust="spacingAndGlyphs">4</text>
<text x="803.49" y="3294.7" font-size="31" fill="#25246b" textLength="16.64" lengthAdjust="spacingAndGlyphs">4</text>
<text x="875.86" y="3294.7" font-size="31" fill="#25246b" textLength="16.64" lengthAdjust="spacingAndGlyphs">3</text>
<text x="948.88" y="3294.7" font-size="31" fill="#25246b" textLength="16.64" lengthAdjust="spacingAndGlyphs">2</text>
<text x="1022.28" y="3294.7" font-size="31" fill="#25246b" textLength="16.64" lengthAdjust="spacingAndGlyphs">2</text>
<text x="1094.48" y="3294.7" font-size="31" fill="#25246b" textLength="16.64" lengthAdjust="spacingAndGlyphs">2</text>
<line x1="150.8" y1="3336.7" x2="185.4" y2="3336.7" stroke="#b01c26" stroke-width="4" />
<text x="207.50" y="3345.0" font-size="31" fill="#b01c26" textLength="33.27" lengthAdjust="spacingAndGlyphs">10</text>
<text x="295.70" y="3345.0" font-size="31" fill="#b01c26" textLength="16.64" lengthAdjust="spacingAndGlyphs">9</text>
<text x="368.07" y="3345.0" font-size="31" fill="#b01c26" textLength="16.64" lengthAdjust="spacingAndGlyphs">7</text>
<text x="440.80" y="3345.0" font-size="31" fill="#b01c26" textLength="16.64" lengthAdjust="spacingAndGlyphs">5</text>
<text x="514.00" y="3345.0" font-size="31" fill="#b01c26" textLength="16.64" lengthAdjust="spacingAndGlyphs">5</text>
<text x="587.00" y="3345.0" font-size="31" fill="#b01c26" textLength="16.64" lengthAdjust="spacingAndGlyphs">5</text>
<text x="659.96" y="3345.0" font-size="31" fill="#b01c26" textLength="16.64" lengthAdjust="spacingAndGlyphs">3</text>
<text x="731.06" y="3345.0" font-size="31" fill="#b01c26" textLength="16.64" lengthAdjust="spacingAndGlyphs">3</text>
<text x="803.46" y="3345.0" font-size="31" fill="#b01c26" textLength="16.64" lengthAdjust="spacingAndGlyphs">3</text>
<text x="875.86" y="3345.0" font-size="31" fill="#b01c26" textLength="16.64" lengthAdjust="spacingAndGlyphs">3</text>
<text x="948.88" y="3345.0" font-size="31" fill="#b01c26" textLength="16.64" lengthAdjust="spacingAndGlyphs">2</text>
<text x="1022.28" y="3345.0" font-size="31" fill="#b01c26" textLength="16.64" lengthAdjust="spacingAndGlyphs">2</text>
<text x="1094.48" y="3345.0" font-size="31" fill="#b01c26" textLength="16.64" lengthAdjust="spacingAndGlyphs">2</text>
</svg>
</body></html>
